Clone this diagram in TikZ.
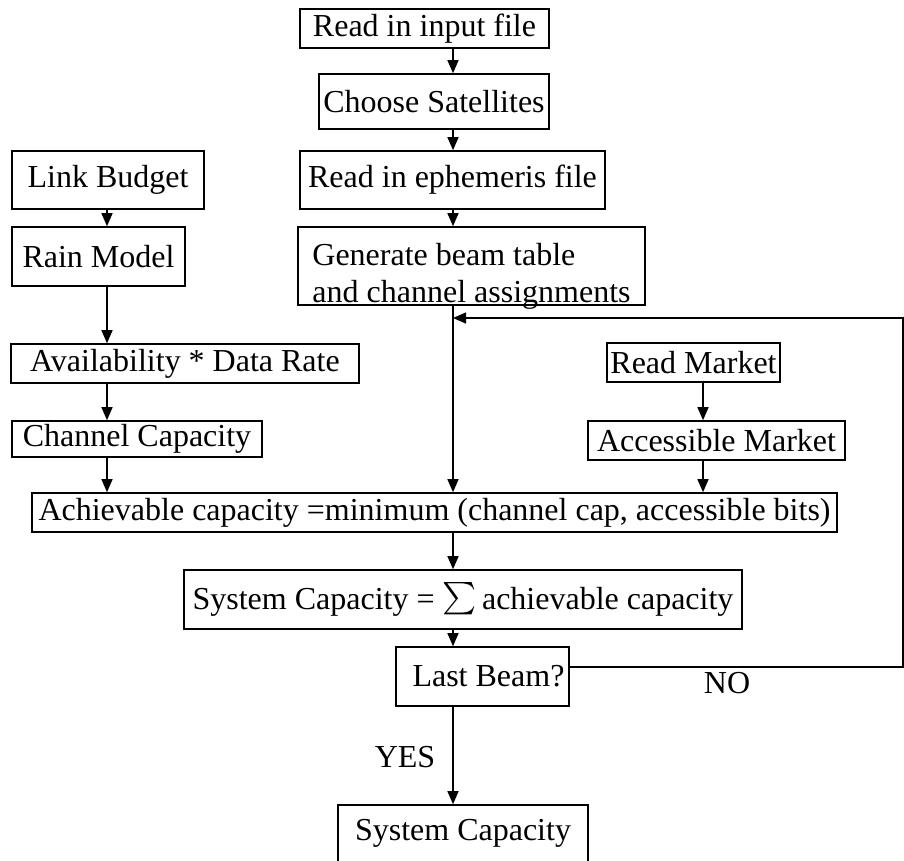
\documentclass[tikz,border=0pt]{standalone}
\usepackage{amsmath}
\usepackage{fontspec}
\setmainfont{Liberation Serif}
\usetikzlibrary{arrows.meta}
\begin{document}
\begin{tikzpicture}[x=1pt,y=-1pt,
  box/.style={draw, line width=1.6pt, inner sep=0pt, font=\fontsize{32}{37}\selectfont},
  conn/.style={line width=1.4pt},
  arr/.style={conn, -{Triangle[length=13pt,width=11pt]}},
  lbl/.style={inner sep=0pt, font=\fontsize{32}{37}\selectfont}]
\useasboundingbox (0,0) rectangle (904,860);
% column / row helpers
\coordinate (cm) at (453,0);
\coordinate (cl) at (107,0);
\coordinate (cr) at (703,0);
\coordinate (cx) at (903,0);
\coordinate (loopy) at (0,318);
\coordinate (noy) at (0,667);
% boxes
\node[box, minimum width=249, minimum height=39] (A) at (424.5,28.5) {Read in input file};
\node[box, minimum width=230, minimum height=55] (B) at (434,101.5) {Choose Satellites};
\node[box, minimum width=192, minimum height=58] (C) at (108,180) {Link Budget};
\node[box, minimum width=305, minimum height=58] (D) at (452.5,180) {Read in ephemeris file};
\node[box, minimum width=173, minimum height=59] (E) at (98.5,256.5) {Rain Model};
\node[box, minimum width=347, align=left, text height=75pt, text depth=3pt] (F) at (471.5,266)
  {Generate beam table\\and channel assignments};
\node[box, minimum width=348, minimum height=39] (G) at (185,363.5) {Availability * Data Rate};
\node[box, minimum width=250, minimum height=36] (H) at (137,439) {Channel Capacity};
\node[box, minimum width=173, minimum height=39] (I) at (693.5,362.5) {Read Market};
\node[box, minimum width=257, minimum height=39] (J) at (716.5,440.5) {Accessible Market};
\node[box, minimum width=805, minimum height=39] (K) at (434.5,512.5)
  {Achievable capacity =minimum (channel cap, accessible bits)};
\node[box, minimum width=558, minimum height=59] (L) at (463,599.5)
  {System Capacity = \raisebox{2pt}{\scalebox{1.3}{$\sum$}}\,achievable capacity};
\node[box, minimum width=173, minimum height=59] (M) at (482.5,676.5) {\hspace{12pt}Last Beam?};
\node[box, minimum width=250, minimum height=57] (N) at (463,833.5) {System Capacity};
% labels
\node[lbl] (no) at (727,683) {NO};
\node[lbl] (yes) at (405,757) {YES};
% connectors
\draw[arr] (A.south -| cm) -- (B.north -| cm);
\draw[arr] (B.south -| cm) -- (D.north -| cm);
\draw[arr] (D.south -| cm) -- (F.north -| cm);
\draw[arr] (C.south -| cl) -- (E.north -| cl);
\draw[arr] (E.south -| cl) -- (G.north -| cl);
\draw[arr] (G.south -| cl) -- (H.north -| cl);
\draw[arr] (H.south -| cl) -- (K.north -| cl);
\draw[arr] (I.south -| cr) -- (J.north -| cr);
\draw[arr] (J.south -| cr) -- (K.north -| cr);
\draw[arr] (F.south -| cm) -- (K.north -| cm);
\draw[arr] (K.south -| cm) -- (L.north -| cm);
\draw[arr] (L.south -| cm) -- (M.north -| cm);
\draw[arr] (M.south -| cm) -- (N.north -| cm);
\draw[arr] (M.east |- noy) -- (cx |- noy) -- (cx |- loopy) -- (cm |- loopy);
\end{tikzpicture}
\end{document}
